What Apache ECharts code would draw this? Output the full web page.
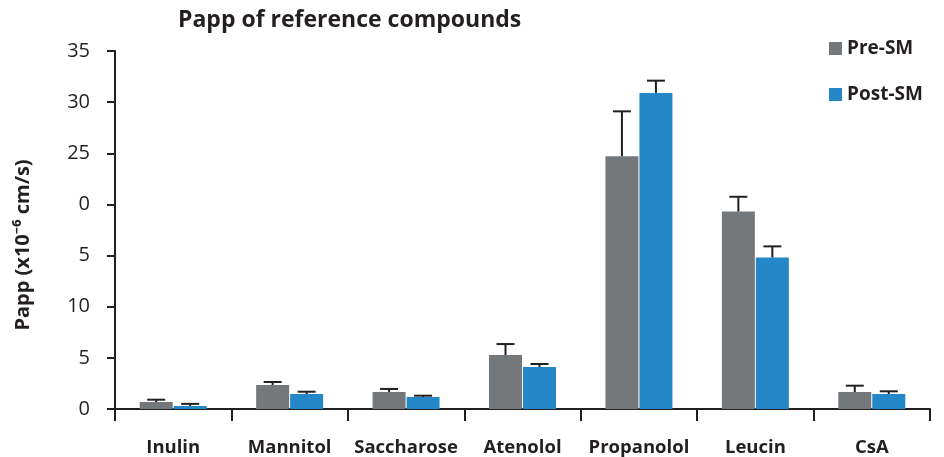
<!DOCTYPE html>
<html>
<head>
<meta charset="utf-8">
<script src="https://cdn.jsdelivr.net/npm/echarts@6/dist/echarts.min.js"></script>
<style>
html,body{margin:0;padding:0;background:#fff;}
#chart{width:944px;height:457px;}
</style>
</head>
<body>
<div id="chart"></div>
<script>
var compounds=['Inulin','Mannitol','Saccharose','Atenolol','Propanolol','Leucin','CsA'];
var preSM=[0.68,2.35,1.66,5.28,24.7,19.3,1.66];
var preErr=[0.23,0.29,0.3,1.07,4.4,1.45,0.62];
var postSM=[0.3,1.47,1.17,4.1,30.9,14.8,1.47];
var postErr=[0.2,0.22,0.13,0.3,1.2,1.1,0.26];
// tick labels as printed in the figure (bottom to top)
var yTickLabels=['0','5','10','5','0','25','30','35'];

var ink='#231f20';
var font='"Open Sans", "Noto Sans", sans-serif';
var barW=33;

function errSeries(vals,errs,shift){
    var d=[];
    for(var i=0;i<vals.length;i++){ d.push([i,vals[i],vals[i]+errs[i]]); }
    return {
        type:'custom',
        silent:true,
        z:1,
        data:d,
        encode:{x:0,y:[1,2]},
        renderItem:function(params,api){
            var lo=api.coord([api.value(0),api.value(1)]);
            var hi=api.coord([api.value(0),api.value(2)]);
            var x=lo[0]+shift;
            var st={stroke:ink,lineWidth:2};
            return {type:'group',children:[
                {type:'line',shape:{x1:x,y1:lo[1],x2:x,y2:hi[1]},style:st},
                {type:'line',shape:{x1:x-9,y1:hi[1],x2:x+9,y2:hi[1]},style:st}
            ]};
        }
    };
}

var myChart=echarts.init(document.getElementById('chart'));
var option={
    animation:false,
    title:{
        text:'Papp of reference compounds',
        left:173,top:4,
        textStyle:{fontFamily:font,fontSize:23,fontWeight:'bold',color:ink}
    },
    legend:{
        orient:'vertical',
        left:824,top:34,
        itemWidth:13,itemHeight:13,itemGap:27,
        icon:'rect',
        textStyle:{fontFamily:font,fontSize:19,fontWeight:'bold',color:ink},
        data:['Pre-SM','Post-SM']
    },
    grid:{left:115,right:14,top:51,bottom:46},
    xAxis:{
        type:'category',
        data:compounds,
        boundaryGap:true,
        axisLine:{lineStyle:{color:ink,width:2}},
        axisTick:{show:true,length:12,lineStyle:{color:ink,width:2},alignWithLabel:false},
        axisLabel:{margin:29,fontFamily:font,fontSize:18.5,fontWeight:'bold',color:ink,interval:0}
    },
    yAxis:{
        type:'value',
        min:0,max:35,interval:5,
        name:'Papp (x10⁻⁶ cm/s)',
        nameLocation:'middle',
        nameGap:82,
        nameTextStyle:{fontFamily:font,fontSize:20,fontWeight:'bold',color:ink,padding:[0,30,0,0]},
        axisLine:{show:true,lineStyle:{color:ink,width:2}},
        axisTick:{show:true,length:8,lineStyle:{color:ink,width:2}},
        splitLine:{show:false},
        axisLabel:{
            margin:25,fontFamily:font,fontSize:20,color:ink,
            formatter:function(v){return yTickLabels[Math.round(v/5)];}
        }
    },
    series:[
        {name:'Pre-SM',type:'bar',data:preSM,barWidth:barW,barGap:'3%',itemStyle:{color:'#75787b'},z:2},
        {name:'Post-SM',type:'bar',data:postSM,barWidth:barW,barGap:'3%',itemStyle:{color:'#2387c8'},z:2},
        errSeries(preSM,preErr,-17),
        errSeries(postSM,postErr,17)
    ]
};
myChart.setOption(option);
</script>
</body>
</html>
